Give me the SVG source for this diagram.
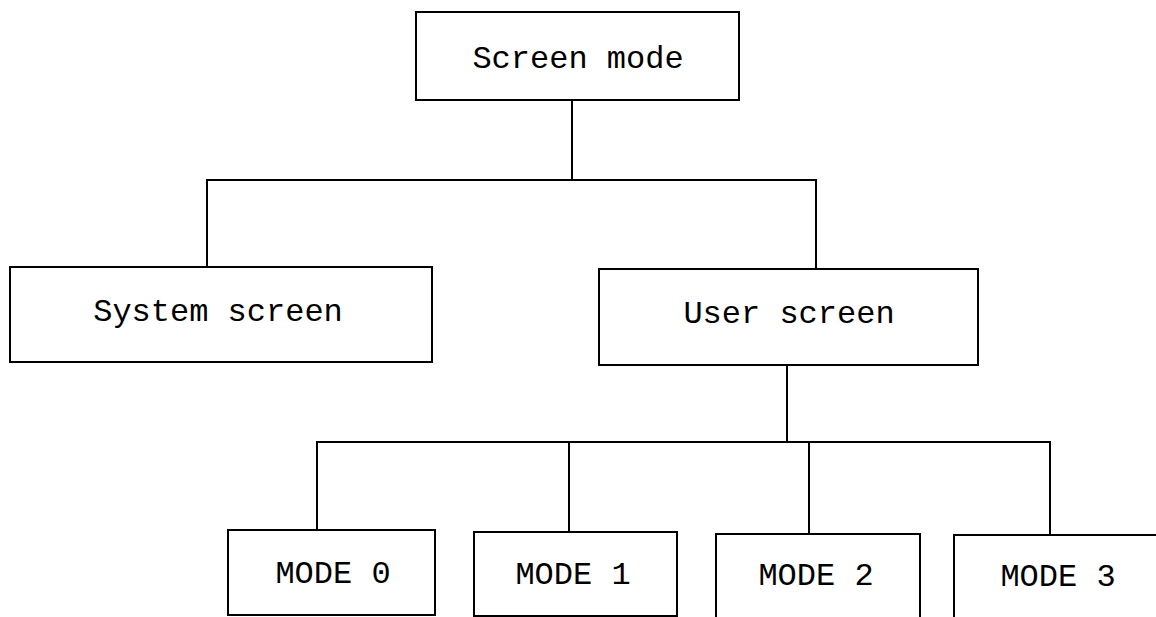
<svg xmlns="http://www.w3.org/2000/svg" width="1156" height="617" viewBox="0 0 1156 617">
  <style>
    .box { fill: #ffffff; stroke: #000000; stroke-width: 2; }
    .wire { fill: none; stroke: #000000; stroke-width: 2; }
    .label { font-family: "Liberation Mono", "Courier New", monospace; font-size: 32px; fill: #000000; text-anchor: middle; }
  </style>
  <rect width="1156" height="617" fill="#ffffff"/>

  <!-- tree connectors -->
  <g id="connectors">
    <path class="wire" d="M572,100 V180"/>
    <path class="wire" d="M207,267 V180 H816 V269"/>
    <path class="wire" d="M787,365 V443"/>
    <path class="wire" d="M317,530 V442 H1050 V534"/>
    <path class="wire" d="M569,531 V442"/>
    <path class="wire" d="M809,533 V442"/>
  </g>

  <g id="screen-mode">
    <rect class="box" x="416" y="12" width="323" height="88"/>
    <text class="label" x="578" y="68">Screen mode</text>
  </g>

  <g id="system-screen">
    <rect class="box" x="10" y="267" width="422" height="95"/>
    <text class="label" x="218" y="321">System screen</text>
  </g>

  <g id="user-screen">
    <rect class="box" x="599" y="269" width="379" height="96"/>
    <text class="label" x="789" y="323">User screen</text>
  </g>

  <g id="mode-0">
    <rect class="box" x="228" y="530" width="207" height="85"/>
    <text class="label" x="333" y="583">MODE 0</text>
  </g>

  <g id="mode-1">
    <rect class="box" x="474" y="532" width="203" height="84"/>
    <text class="label" x="573" y="584">MODE 1</text>
  </g>

  <g id="mode-2">
    <rect class="box" x="716" y="534" width="204" height="90"/>
    <text class="label" x="816" y="585">MODE 2</text>
  </g>

  <g id="mode-3">
    <rect class="box" x="954" y="535" width="220" height="90"/>
    <text class="label" x="1058" y="586">MODE 3</text>
  </g>
</svg>
